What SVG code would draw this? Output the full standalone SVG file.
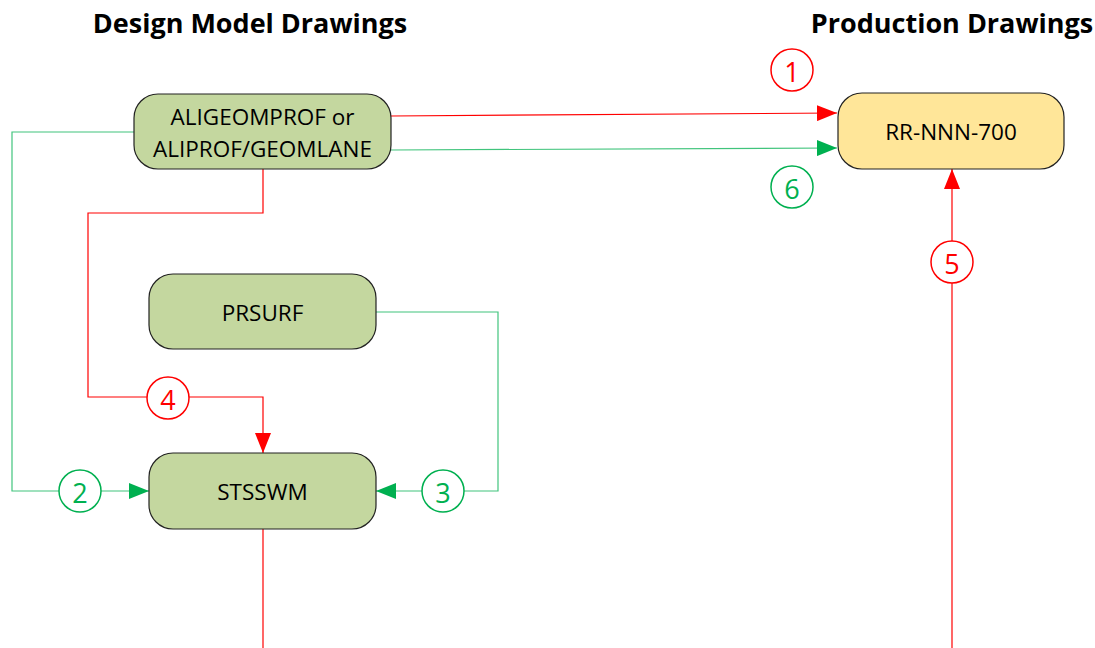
<svg xmlns="http://www.w3.org/2000/svg" width="1095" height="648" viewBox="0 0 1095 648">
<style>
.title{font-family:"Open Sans","Liberation Sans",sans-serif;font-weight:bold;font-size:27px;fill:#000;text-anchor:middle}
.nt{font-family:"Open Sans","Liberation Sans",sans-serif;font-size:22.5px;fill:#000;text-anchor:middle;dominant-baseline:central}
.g{fill:#C4D79F;stroke:#222;stroke-width:1.2}
.y{fill:#FFE699;stroke:#222;stroke-width:1.2}
.lr{fill:none;stroke:#FF0000;stroke-width:1.2}
.lg{fill:none;stroke:#00B050;stroke-width:1.2;stroke-opacity:0.75}
.cr{fill:#fff;stroke:#FF0000;stroke-width:1.5}
.cg{fill:#fff;stroke:#00B050;stroke-width:1.5}
.tr{font-family:"Open Sans","Liberation Sans",sans-serif;font-size:27px;fill:#FF0000;text-anchor:middle;dominant-baseline:central}
.tg{font-family:"Open Sans","Liberation Sans",sans-serif;font-size:27px;fill:#00B050;text-anchor:middle;dominant-baseline:central}
</style>
<defs>
<marker id="ar" markerUnits="userSpaceOnUse" markerWidth="20" markerHeight="16" refX="20" refY="8" orient="auto"><path d="M0,0 L20,8 L0,16 Z" fill="#FF0000"/></marker>
<marker id="ag" markerUnits="userSpaceOnUse" markerWidth="20" markerHeight="16" refX="20" refY="8" orient="auto"><path d="M0,0 L20,8 L0,16 Z" fill="#00B050"/></marker>
</defs>
<rect width="1095" height="648" fill="#fff"/>
<text class="title" x="250" y="33">Design Model Drawings</text>
<text class="title" x="952" y="33">Production Drawings</text>
<g id="connectors">
<path class="lr" d="M391,116 L837,113" marker-end="url(#ar)"/>
<path class="lg" d="M391,150 L837,148" marker-end="url(#ag)"/>
<path class="lg" d="M134,132 L12,132 L12,491 L149,491" marker-end="url(#ag)"/>
<path class="lr" d="M263,169 L263,213 L88,213 L88,397 L263,397 L263,453" marker-end="url(#ar)"/>
<path class="lg" d="M376,312 L498,312 L498,491 L376,491" marker-end="url(#ag)"/>
<path class="lr" d="M952,648 L952,169" marker-end="url(#ar)"/>
<path class="lr" d="M263,529 L263,648"/>
</g>
<g id="label1"><circle class="cr" cx="792" cy="70" r="21"/><text class="tr" x="792" y="71">1</text></g>
<g id="label6"><circle class="cg" cx="792" cy="187" r="21"/><text class="tg" x="792" y="188">6</text></g>
<g id="label5"><circle class="cr" cx="952" cy="262" r="21"/><text class="tr" x="952" y="263">5</text></g>
<g id="label4"><circle class="cr" cx="168" cy="398" r="21"/><text class="tr" x="168" y="399">4</text></g>
<g id="label2"><circle class="cg" cx="80" cy="491" r="21"/><text class="tg" x="80" y="492">2</text></g>
<g id="label3"><circle class="cg" cx="443" cy="491" r="21"/><text class="tg" x="443" y="492">3</text></g>
<g id="aligeom"><rect class="g" x="134" y="94" width="257" height="75" rx="24"/><text class="nt" x="262.5" y="116">ALIGEOMPROF or</text><text class="nt" x="262.5" y="148">ALIPROF/GEOMLANE</text></g>
<g id="rrnnn"><rect class="y" x="838" y="93" width="226" height="76" rx="24"/><text class="nt" x="951" y="131">RR-NNN-700</text></g>
<g id="prsurf"><rect class="g" x="149" y="274" width="227" height="75" rx="24"/><text class="nt" x="262.5" y="312">PRSURF</text></g>
<g id="stsswm"><rect class="g" x="149" y="453" width="227" height="76" rx="24"/><text class="nt" x="262.5" y="491">STSSWM</text></g>
</svg>
